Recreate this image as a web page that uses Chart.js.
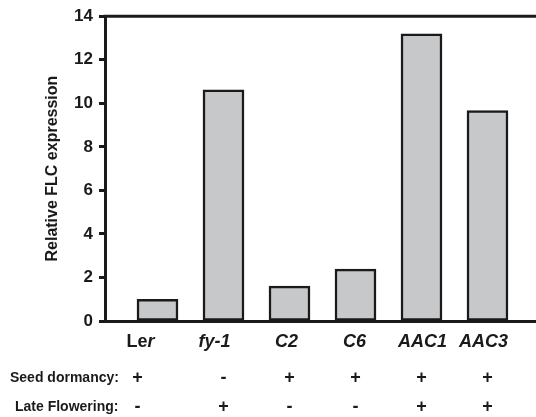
<!DOCTYPE html>
<html>
<head>
<meta charset="utf-8">
<script src="https://cdn.jsdelivr.net/npm/chart.js@4"></script>
<style>
  html, body { margin: 0; padding: 0; background: #fff; }
  #wrap { width: 536px; height: 417px; }
</style>
</head>
<body>
<div id="wrap"><canvas id="flc-chart" width="536" height="417"></canvas></div>
<script>
const lines = ['Ler', 'fy-1', 'C2', 'C6', 'AAC1', 'AAC3'];
const flcExpression = [1.0, 10.62, 1.6, 2.38, 13.19, 9.67];
const seedDormancy = ['+', '-', '+', '+', '+', '+'];
const lateFlowering = ['-', '+', '-', '-', '+', '+'];
const yTicks = [0, 2, 4, 6, 8, 10, 12, 14];

const FONT = "'Liberation Sans', Arial, sans-serif";
const INK = '#1a1a1a';

// labels under the axis + the +/- rows
const labelsPlugin = {
    id: 'labelsPlugin',
    afterDraw(chart) {
        const ctx = chart.ctx;
        const x = chart.scales.x;
        const area = chart.chartArea;
        ctx.save();

        // top frame line
        ctx.strokeStyle = INK;
        ctx.lineWidth = 3;
        ctx.beginPath();
        ctx.moveTo(area.left - 1.5, area.top);
        ctx.lineTo(area.right, area.top);
        ctx.stroke();

        ctx.fillStyle = INK;
        ctx.textBaseline = 'middle';
        const labelShift = [-17, -9, -3, -1, 1, -4];
        lines.forEach((name, i) => {
            const cx = x.getPixelForValue(i) + labelShift[i];
            if (name === 'Ler') {
                ctx.font = 'bold 18px ' + FONT;
                const w1 = ctx.measureText('Le').width;
                ctx.font = 'italic bold 18px ' + FONT;
                const w2 = ctx.measureText('r').width;
                const start = cx - (w1 + w2) / 2;
                ctx.textAlign = 'left';
                ctx.font = 'bold 18px ' + FONT;
                ctx.fillText('Le', start, 342);
                ctx.font = 'italic bold 18px ' + FONT;
                ctx.fillText('r', start + w1, 342);
            } else {
                ctx.textAlign = 'center';
                ctx.font = 'italic bold 18px ' + FONT;
                ctx.fillText(name, cx, 342);
            }
        });

        ctx.textAlign = 'left';
        ctx.font = 'bold 14px ' + FONT;
        ctx.fillText('Seed dormancy:', 10, 378);
        ctx.fillText('Late Flowering:', 15, 407);

        ctx.textAlign = 'center';
        ctx.font = 'bold 18px ' + FONT;
        lines.forEach((name, i) => {
            const cx = x.getPixelForValue(i) + (i === 0 ? -20 : 0);
            ctx.fillText(seedDormancy[i], cx, 378);
            ctx.fillText(lateFlowering[i], cx, 407);
        });
        ctx.restore();
    }
};

const ctx = document.getElementById('flc-chart').getContext('2d');
const chart = new Chart(ctx, {
    type: 'bar',
    data: {
        datasets: [{
            label: 'Relative FLC expression',
            data: flcExpression.map((v, i) => ({ x: i, y: v })),
            backgroundColor: '#c7c8ca',
            borderColor: INK,
            borderWidth: 2.5,
            borderSkipped: false,
            barThickness: 41
        }]
    },
    options: {
        responsive: false,
        animation: false,
        layout: { padding: { left: 0, top: 15, right: 0, bottom: 96 } },
        plugins: {
            legend: { display: false },
            tooltip: { enabled: false }
        },
        scales: {
            x: {
                type: 'linear',
                offset: false,
                min: -0.7955,
                max: 5.735,
                ticks: { display: false },
                grid: { display: true, drawOnChartArea: false, drawTicks: false },
                border: { display: true, color: INK, width: 3 }
            },
            y: {
                min: 0,
                max: 14,
                afterBuildTicks: scale => { scale.ticks = yTicks.map(v => ({ value: v })); },
                afterFit: scale => { scale.width = 105; },
                ticks: {
                    color: INK,
                    padding: 6,
                    font: { family: FONT, size: 17, weight: 'bold' }
                },
                grid: {
                    drawOnChartArea: false,
                    drawTicks: true,
                    tickLength: 6,
                    tickWidth: 3,
                    tickColor: INK
                },
                border: { display: true, color: INK, width: 3 },
                title: {
                    display: true,
                    text: 'Relative FLC expression',
                    color: INK,
                    padding: { top: 43, bottom: 0 },
                    font: { family: FONT, size: 16, weight: 'bold' }
                }
            }
        }
    },
    plugins: [labelsPlugin]
});
</script>
</body>
</html>
